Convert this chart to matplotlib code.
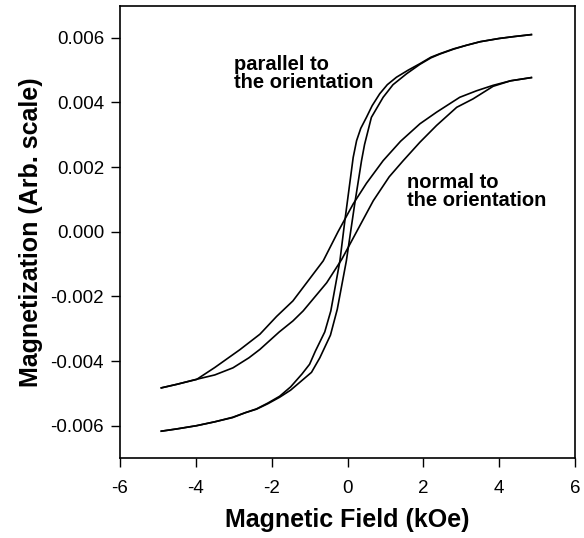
import matplotlib
matplotlib.use("Agg")
import matplotlib.pyplot as plt

# Parallel to the orientation: descending branch (field decreasing)
par_desc_H = [4.85, 4.4, 4.0, 3.5, 3.14, 2.8, 2.44, 2.2, 1.91, 1.6, 1.29, 1.05, 0.85, 0.65, 0.50,
              0.35, 0.24, 0.15, -0.07, -0.20, -0.44, -0.6, -0.85, -1.0, -1.2, -1.5, -1.79, -2.1,
              -2.4, -2.7, -3.03, -3.5, -3.98, -4.5, -4.91]
par_desc_M = [0.0061, 0.00604, 0.00598, 0.00588, 0.00577, 0.00566, 0.00551, 0.0054, 0.0052, 0.005,
              0.00478, 0.00455, 0.00427, 0.0039, 0.00354, 0.0032, 0.00282, 0.0023, 0.00034, -0.0009,
              -0.00245, -0.0031, -0.0037, -0.0041, -0.0044, -0.0048, -0.00509, -0.0053, -0.00548,
              -0.0056, -0.00574, -0.00588, -0.0060, -0.0061, -0.00617]
# Parallel to the orientation: ascending branch (field increasing)
par_asc_H = [-4.91, -4.5, -3.98, -3.5, -3.03, -2.7, -2.4, -2.1, -1.79, -1.5, -1.2, -0.95, -0.73,
             -0.45, -0.27, -0.03, 0.19, 0.37, 0.45, 0.63, 0.94, 1.2, 1.56, 1.91, 2.2, 2.44, 2.8,
             3.14, 3.5, 4.0, 4.4, 4.85]
par_asc_M = [-0.00617, -0.0061, -0.0060, -0.00588, -0.00575, -0.0056, -0.00549, -0.00532, -0.00512,
             -0.0049, -0.0046, -0.00435, -0.0039, -0.0032, -0.0024, -0.0009, 0.00086, 0.0022, 0.0027,
             0.00354, 0.00416, 0.00455, 0.00489, 0.00518, 0.00538, 0.0055, 0.00565, 0.00577,
             0.00588, 0.00598, 0.00604, 0.0061]

# Normal to the orientation: descending branch
nor_desc_H = [4.85, 4.3, 3.84, 3.4, 2.96, 2.35, 1.91, 1.4, 0.94, 0.5, 0.15, -0.25, -0.64, -1.04,
              -1.44, -1.87, -2.31, -2.84, -3.5, -3.98, -4.5, -4.91]
nor_desc_M = [0.00477, 0.00467, 0.00453, 0.00436, 0.00416, 0.0037, 0.00334, 0.0028, 0.0022, 0.0015,
              0.00086, 0.0, -0.0009, -0.00152, -0.00214, -0.00262, -0.00317, -0.00365, -0.0042,
              -0.00457, -0.00472, -0.00483]
# Normal to the orientation: ascending branch
nor_asc_H = [-4.91, -4.5, -4.07, -3.5, -3.02, -2.6, -2.31, -1.8, -1.44, -1.17, -0.55, -0.15, 0.24,
             0.68, 1.1, 1.47, 1.91, 2.35, 2.88, 3.31, 3.84, 4.3, 4.85]
nor_asc_M = [-0.00483, -0.00472, -0.00459, -0.00443, -0.00421, -0.0039, -0.00364, -0.0031, -0.00276,
             -0.00245, -0.00158, -0.00085, 0.0, 0.00096, 0.0017, 0.0022, 0.00277, 0.00329, 0.00385,
             0.00411, 0.0045, 0.00467, 0.00477]

x_ticks = [-6, -4, -2, 0, 2, 4, 6]
y_ticks = [-0.006, -0.004, -0.002, 0.000, 0.002, 0.004, 0.006]
y_tick_labels = ["-0.006", "-0.004", "-0.002", "0.000", "0.002", "0.004", "0.006"]

plt.rcParams['font.family'] = ['Liberation Sans', 'DejaVu Sans']

fig = plt.figure(figsize=(5.84, 5.38), dpi=100)
ax = fig.add_axes([120 / 584, 1 - 458 / 538, 455 / 584, 452.5 / 538])

for H, M in [(par_desc_H, par_desc_M), (par_asc_H, par_asc_M),
             (nor_desc_H, nor_desc_M), (nor_asc_H, nor_asc_M)]:
    ax.plot(H, M, color='black', linewidth=1.2, solid_joinstyle='round')

ax.set_xlim(-6, 6)
ax.set_ylim(-0.007, 0.007)
ax.set_xticks(x_ticks)
ax.set_xticklabels([str(t) for t in x_ticks])
ax.set_yticks(y_ticks)
ax.set_yticklabels(y_tick_labels)
ax.tick_params(axis='both', direction='out', length=6.5, width=1.0, labelsize=13.5, pad=5,
               top=False, right=False)
ax.tick_params(axis='x', pad=9)
for s in ax.spines.values():
    s.set_linewidth(1.2)
    s.set_color('black')

ax.set_xlabel('Magnetic Field (kOe)', fontsize=18, fontweight='bold', labelpad=8)
ax.set_ylabel('Magnetization (Arb. scale)', fontsize=18, fontweight='bold', labelpad=5)

ax.text(-3.0, 0.0049, 'parallel to\nthe orientation', fontsize=14.5, fontweight='bold',
        va='center', ha='left', linespacing=0.95)
ax.text(1.56, 0.00124, 'normal to\nthe orientation', fontsize=14.5, fontweight='bold',
        va='center', ha='left', linespacing=0.95)

fig.savefig('out.png', dpi=100)
